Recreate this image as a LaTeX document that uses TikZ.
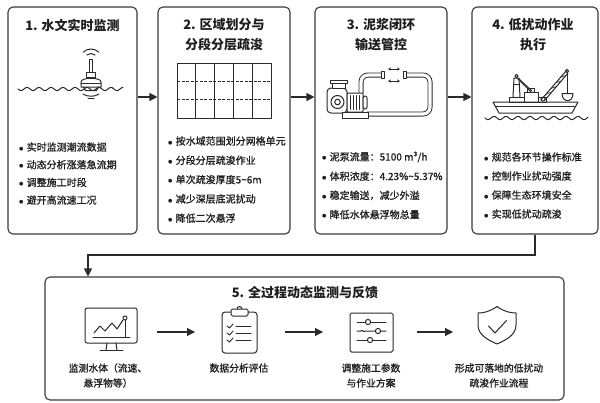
\documentclass[tikz,border=0pt]{standalone}
\usepackage{fontspec}
\setmainfont{Noto Sans CJK SC}
\newfontfamily\midfont{Noto Sans CJK SC}[FakeBold=0.9]
\newfontfamily\dotfont{DejaVu Sans}
\usetikzlibrary{arrows.meta,calc}
\definecolor{ink}{HTML}{1E1E1E}
\definecolor{linec}{HTML}{2A2A2A}
\definecolor{framec}{HTML}{3A3A3A}

\tikzset{
  frame/.style={draw=framec, line width=1.1pt, rounded corners=5pt, fill=white, inner sep=0pt},
  arr/.style={draw=linec, line width=1.1pt, -{Triangle[length=8pt,width=8pt]}},
  ttl/.style={font=\fontsize{13}{20}\selectfont\bfseries, text=ink, align=center, inner sep=0pt},
  bul/.style={font=\midfont\fontsize{10}{12}\selectfont, text=ink, anchor=west, inner sep=0pt},
  captext/.style={font=\midfont\fontsize{9.8}{15}\selectfont, text=ink, align=center, inner sep=0pt},
  ico/.style={draw=linec, line width=1pt, line join=round, line cap=round},
  pipe/.style={draw=linec, line width=0.9pt, double=white, double distance=3.2pt, rounded corners=7pt},
}
\newcommand{\bulletline}[1]{\makebox[7.5pt][l]{\raisebox{0.6pt}{\dotfont\fontsize{5}{5}\selectfont ●}}#1}

\begin{document}
\begin{tikzpicture}[x=1pt,y=-1pt]
  \useasboundingbox (0,0) rectangle (600,402);

  % ---------- stage frames ----------
  \node[frame, minimum width=129pt, minimum height=227pt] (b1) at (72.5,120.5) {};
  \node[frame, minimum width=132pt, minimum height=227pt] (b2) at (224,120.5) {};
  \node[frame, minimum width=132pt, minimum height=227pt] (b3) at (381,120.5) {};
  \node[frame, minimum width=126pt, minimum height=227pt] (b4) at (535,120.5) {};
  \node[frame, minimum width=519pt, minimum height=123pt] (b5) at (304.5,338.5) {};

  % ---------- titles ----------
  \node[ttl] (t1) at (72.5,25) {1. 水文实时监测};
  \node[ttl] (t2) at (224,35) {2. 区域划分与\\分段分层疏浚};
  \node[ttl] (t3) at (381,35) {3. 泥浆闭环\\输送管控};
  \node[ttl] (t4) at (533,35) {4. 低扰动作业\\执行};
  \node[ttl] (t5) at (305,293) {5. 全过程动态监测与反馈};

  % ---------- bullet lists ----------
  \foreach \t [count=\i] in {实时监测潮流数据, 动态分析涨落急流期, 调整施工时段, 避开高流速工况}
    \node[bul] (l1\i) at (19,{147+17.7*(\i-1)}) {\bulletline{\t}};
  \foreach \t [count=\i] in {按水域范围划分网格单元, 分段分层疏浚作业, 单次疏浚厚度5\textasciitilde6m, 减少深层底泥扰动, 降低二次悬浮}
    \node[bul] (l2\i) at (168,{141+19.3*(\i-1)}) {\bulletline{\t}};
  \foreach \t [count=\i] in {泥泵流量：5100 m³/h, 体积浓度：4.23\%\textasciitilde5.37\%, 稳定输送，减少外溢, 降低水体悬浮物总量}
    \node[bul] (l3\i) at (322,{157+19.2*(\i-1)}) {\bulletline{\t}};
  \foreach \t [count=\i] in {规范各环节操作标准, 控制作业扰动强度, 保障生态环境安全, 实现低扰动疏浚}
    \node[bul] (l4\i) at (484,{157+19*(\i-1)}) {\bulletline{\t}};

  % ---------- flow between stages ----------
  \coordinate (row) at (0,97);
  \draw[arr] (b1.east |- row) -- (b2.west |- row);
  \draw[arr] (b2.east |- row) -- (b3.west |- row);
  \draw[arr] (b3.east |- row) -- (b4.west |- row);
  \coordinate (fb) at (88,255);
  \draw[arr] (b4.south) |- (fb) -- (b5.north -| fb);

  % ---------- buoy ----------
  \begin{scope}[ico]
    \draw (91,60) ++(225:11) arc[start angle=225, end angle=315, radius=11];
    \draw (91,60) ++(230:6.5) arc[start angle=230, end angle=310, radius=6.5];
    \draw (89.5,59) rectangle (92.5,72);
    \draw (86.5,72) rectangle (95.5,77);
    \draw (81,87) -- (81,82) .. controls (81,77) and (101,77) .. (101,82) -- (101,87) -- cycle;
    \draw (81,83.5) -- (101,83.5);
    \draw (83.5,87) -- (85.5,90.5) -- (96.5,90.5) -- (98.5,87);
    \draw plot[domain=18:123, samples=80, smooth] (\x, {89+1.6*sin((\x-18)*30)});
    \draw (83,94) .. controls (87,97) and (95,97) .. (99,94);
    \draw (88,98.5) -- (94,98.5);
  \end{scope}

  % ---------- dredging grid ----------
  \begin{scope}[ico, line cap=butt]
    \draw (177,63) rectangle (271,118);
    \foreach \k in {1,...,4} \draw[line width=0.7pt] ({177+18.8*\k},63) -- ({177+18.8*\k},118);
    \foreach \k in {1,2} \draw[line width=0.7pt, dash pattern=on 3pt off 1.5pt] (177,{63+18.33*\k}) -- (271,{63+18.33*\k});
  \end{scope}

  % ---------- pump and closed pipe loop ----------
  \draw[pipe] (361,93) -- (361,75) -- (382,75);
  \draw[pipe] (404,75) -- (430,75) -- (430,114) -- (367,114);
  \begin{scope}[ico]
    \draw[fill=white] (381,71.5) rectangle (384,78.5);
    \draw[fill=white] (403,71.5) rectangle (406,78.5);
    \draw[rounded corners=4pt, fill=white] (327,88) rectangle (347,113);
    \draw (337.5,102) circle (6.5);
    \draw (337.5,102) circle (2.8);
    \draw[fill=white] (332,83) rectangle (345,88);
    \draw[fill=white] (330,80) rectangle (347,83);
    \draw[fill=white, rounded corners=1pt] (347,93) rectangle (363,112);
    \foreach \x in {350.5,353.5,356.5,359.5} \draw[line width=0.7pt] (\x,95.5) -- (\x,109.5);
    \draw[fill=white, rounded corners=2pt] (363,96) rectangle (367,109);
    \draw[fill=white] (342,112) rectangle (368,118);
    \draw[line width=0.8pt, {Stealth[length=3pt,width=3pt]}-{Stealth[length=3pt,width=3pt]}] (388,69) -- (400,69);
    \draw[line width=0.8pt, {Stealth[length=3pt,width=3pt]}-{Stealth[length=3pt,width=3pt]}] (388,81) -- (400,81);
  \end{scope}

  % ---------- crane vessel ----------
  \begin{scope}[ico]
    \draw plot[domain=485:588, samples=80, smooth] (\x, {118+1.6*sin((\x-485)*30)});
    \draw (493,102) -- (578,102) -- (572,113) -- (499,113) -- cycle;
    \draw (496,106) -- (575,106);
    \draw (509,97) rectangle (524,102);
    \draw (524,92) rectangle (538,102);
    \draw (527,88.5) rectangle (534,92);
    \draw (538,97) rectangle (546,102);
    % left crane tower and boom
    \draw (513,97) -- (514,78) -- (519,78) -- (520,97);
    \draw (514,84) -- (519,84);
    \draw (516.5,76) circle (1.6);
    \draw (517,78) -- (531,92);
    \draw (519,79) -- (532,91);
    % right crane boom
    \draw (541,100) -- (566,71);
    \draw (545,100) -- (568,73);
    \foreach \s in {0.2,0.4,0.6,0.8}
      \draw[line width=0.6pt] ($(541,100)!\s!(566,71)$) -- ($(545,100)!{\s+0.1}!(568,73)$);
    \draw (543,99) circle (2);
    \draw (567,71) circle (1.6);
    \draw (567.5,72.5) -- (567.5,93);
    \draw (562,93.5) -- (573,93.5) .. controls (573,103) and (562,103) .. (562,93.5) -- cycle;
  \end{scope}

  % ---------- feedback loop icons ----------
  \begin{scope}[ico]
    % monitor
    \draw[rounded corners=2pt] (85,308) rectangle (137,343);
    \draw (93,337) -- (130,337);
    \draw (94,333) -- (100,326) -- (105,331) -- (112,323) -- (117,329) -- (123,320);
    \draw (125,318) circle (2);
    \draw (125,320) -- (125,337);
    \draw (107,343) -- (106,350);
    \draw (116,343) -- (117,350);
    \draw (100,350.5) -- (123,350.5);
    % clipboard
    \draw[rounded corners=3pt] (222,312) rectangle (257,353);
    \draw[rounded corners=1.5pt, fill=white] (231,309) rectangle (248,316);
    \draw (237,309) arc[start angle=180, end angle=360, radius=2.5];
    \foreach \y in {326,333,340} {
      \draw[line width=0.9pt] (227,\y) -- (229.5,{\y+2}) -- (233,{\y-2});
      \draw (236,\y) -- (251,\y);
    }
    % sliders
    \draw[rounded corners=1.5pt] (350,313) rectangle (393,352);
    \draw (357,322) -- (386,322);
    \draw (357,331) -- (361,331) .. controls (362.5,328.5) and (363.5,333.5) .. (365,331) -- (386,331);
    \draw (357,340) -- (386,340);
    \draw[fill=white] (368,322) circle (2.6);
    \draw[fill=white] (378,331) circle (2.6);
    \draw[fill=white] (370,340) circle (2.6);
    % shield
    \draw (497,306.5) .. controls (490,311.5) and (484,313) .. (478,313) -- (478,325)
          .. controls (478,335) and (488,340) .. (497,344)
          .. controls (506,340) and (516,335) .. (516,325) -- (516,313)
          .. controls (510,313) and (504,311.5) .. (497,306.5) -- cycle;
    \draw (488.5,326) -- (495,333) -- (506.5,320.5);
  \end{scope}

  \coordinate (a1s) at (157,332); \coordinate (a1e) at (195,332);
  \coordinate (a2s) at (285,332); \coordinate (a2e) at (323,332);
  \coordinate (a3s) at (417,332); \coordinate (a3e) at (453,332);
  \draw[arr] (a1s) -- (a1e);
  \draw[arr] (a2s) -- (a2e);
  \draw[arr] (a3s) -- (a3e);

  % ---------- captions ----------
  \node[captext] (c1) at (108,375.5) {监测水体（流速、\\悬浮物等）};
  \node[captext] (c2) at (239,368) {数据分析评估};
  \node[captext] (c3) at (371,375.5) {调整施工参数\\与作业方案};
  \node[captext] (c4) at (499,375.5) {形成可落地的低扰动\\疏浚作业流程};
\end{tikzpicture}
\end{document}
